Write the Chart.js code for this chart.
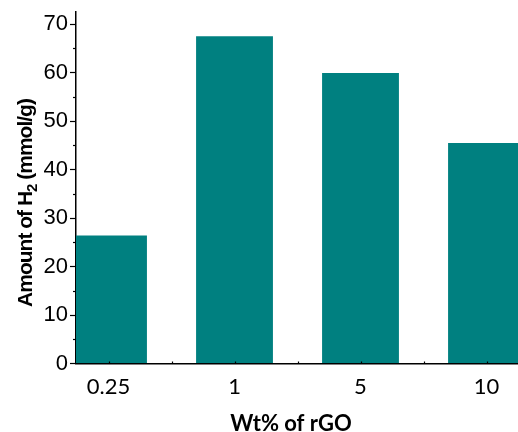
<!DOCTYPE html>
<html>
<head>
<meta charset="utf-8">
<script src="https://cdn.jsdelivr.net/npm/chart.js@4.4.1/dist/chart.umd.min.js"></script>
<style>
  html, body { margin: 0; padding: 0; background: #fff; }
  #wrap { width: 518px; height: 432px; position: relative; }
</style>
</head>
<body>
<div id="wrap"><canvas id="h2Chart" width="518" height="432"></canvas></div>
<script>
// values
const categories = ["0.25", "1", "5", "10"];
const h2Amounts = [26.4, 67.5, 59.9, 45.5];
const yMajorTicks = [0, 10, 20, 30, 40, 50, 60, 70];
const yMinorTicks = [5, 15, 25, 35, 45, 55, 65];

const xTitle = "Wt% of rGO";
const yTitleParts = ["Amount of H", "2", " (mmol/g)"];

const barColor = "#008080";

// minor ticks, inward x ticks and the two axis titles
const axisExtras = {
    id: "axisExtras",
    afterDraw(chart) {
        const ctx = chart.ctx;
        const x = chart.scales.x, y = chart.scales.y;
        const area = chart.chartArea;
        ctx.save();
        ctx.strokeStyle = "#000";
        ctx.lineWidth = 1.2;

        yMinorTicks.forEach(v => {
            let py = Math.round(y.getPixelForValue(v)) + 0.5;
            ctx.beginPath();
            ctx.moveTo(area.left - 3, py);
            ctx.lineTo(area.left, py);
            ctx.stroke();
        });

        for (let i = 0; i <= categories.length - 1; i += 0.5) {
            let px = Math.round(x.getPixelForValue(i)) + 0.5;
            ctx.beginPath();
            ctx.moveTo(px, area.bottom);
            ctx.lineTo(px, area.bottom - 2);
            ctx.stroke();
        }

        // x title
        ctx.fillStyle = "#000";
        ctx.font = "bold 22px Lato";
        ctx.textAlign = "center";
        ctx.textBaseline = "alphabetic";
        ctx.fillText(xTitle, 291, 431);

        // y title with subscript
        ctx.translate(32, 203);
        ctx.rotate(-Math.PI / 2);
        const big = "bold 21px 'Liberation Sans'";
        const small = "bold 15px 'Liberation Sans'";
        ctx.letterSpacing = "-1px";
        ctx.font = big;
        let w0 = ctx.measureText(yTitleParts[0]).width;
        let w2 = ctx.measureText(yTitleParts[2]).width;
        ctx.font = small;
        let w1 = ctx.measureText(yTitleParts[1]).width;
        let start = -(w0 + w1 + w2) / 2;
        ctx.textAlign = "left";
        ctx.font = big;
        ctx.fillText(yTitleParts[0], start, 0);
        ctx.fillText(yTitleParts[2], start + w0 + w1, 0);
        ctx.font = small;
        ctx.fillText(yTitleParts[1], start + w0, 5);
        ctx.restore();
    }
};

new Chart(document.getElementById("h2Chart").getContext("2d"), {
    type: "bar",
    data: {
        datasets: [{
            data: h2Amounts.map((v, i) => ({ x: i, y: v })),
            backgroundColor: barColor,
            borderWidth: 0,
            categoryPercentage: 1.0,
            barPercentage: 0.61
        }]
    },
    options: {
        responsive: false,
        animation: false,
        events: [],
        layout: { padding: { top: 12, right: 0, left: 0, bottom: 0 } },
        plugins: {
            legend: { display: false },
            tooltip: { enabled: false }
        },
        scales: {
            x: {
                type: "linear",
                offset: false,
                min: -0.258,
                max: 3.25,
                afterFit: scale => { scale.height = 68.5; },
                grid: { offset: false, drawOnChartArea: false, drawTicks: false },
                border: { display: true, color: "#000", width: 1.5 },
                ticks: {
                    stepSize: 1,
                    includeBounds: false,
                    autoSkip: false,
                    maxRotation: 0,
                    padding: 10,
                    color: "#000",
                    font: { family: "Lato", size: 22 },
                    callback: v => Number.isInteger(v) ? categories[v] : ""
                }
            },
            y: {
                min: 0,
                max: 72.5,
                afterFit: scale => { scale.width = 76; },
                grid: {
                    drawOnChartArea: false,
                    drawTicks: true,
                    tickLength: 6,
                    tickWidth: 1.2,
                    tickColor: ctx => yMajorTicks.includes(ctx.tick && ctx.tick.value) ? "#000" : "rgba(0,0,0,0)"
                },
                border: { display: true, color: "#000", width: 1.5 },
                ticks: {
                    stepSize: 5,
                    includeBounds: false,
                    autoSkip: false,
                    padding: 2,
                    color: "#000",
                    font: { family: "'Liberation Sans'", size: 22, lineHeight: 0.8 },
                    callback: v => yMajorTicks.includes(v) ? String(v) : ""
                }
            }
        }
    },
    plugins: [axisExtras]
});
</script>
</body>
</html>
